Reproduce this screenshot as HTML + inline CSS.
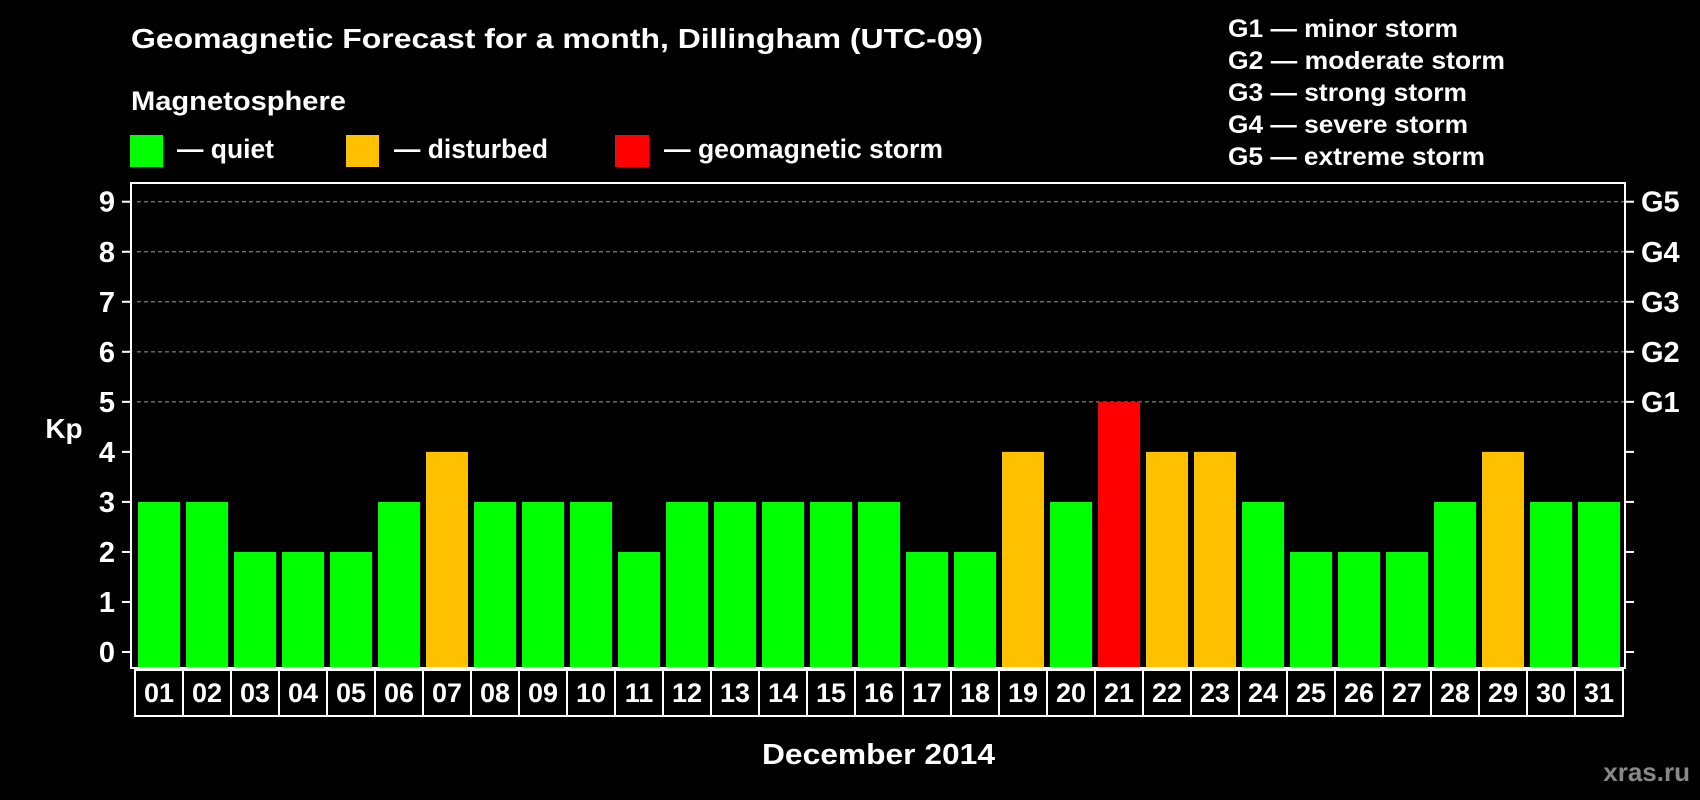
<!DOCTYPE html>
<html><head><meta charset="utf-8"><style>
html,body{margin:0;padding:0;background:#000;}
svg{display:block;font-family:"Liberation Sans",Arial,sans-serif;font-weight:bold;}
</style></head><body>
<svg id="chart" width="1700" height="800" viewBox="0 0 1700 800">
<rect width="1700" height="800" fill="#000"/>
<text x="131" y="48" font-size="28" fill="#fff" textLength="852" lengthAdjust="spacingAndGlyphs">Geomagnetic Forecast for a month, Dillingham (UTC-09)</text>
<text x="131" y="110" font-size="27" fill="#fff" textLength="215" lengthAdjust="spacingAndGlyphs">Magnetosphere</text>
<g>
<rect x="130" y="135" width="33" height="32" fill="#00ff00"/>
<text x="177" y="158" font-size="27" fill="#fff" textLength="97" lengthAdjust="spacingAndGlyphs">— quiet</text></g>
<g>
<rect x="346" y="135" width="33" height="32" fill="#ffc000"/>
<text x="394" y="158" font-size="27" fill="#fff" textLength="154" lengthAdjust="spacingAndGlyphs">— disturbed</text></g>
<g>
<rect x="615" y="135" width="34" height="32" fill="#ff0000"/>
<text x="664" y="158" font-size="27" fill="#fff" textLength="279" lengthAdjust="spacingAndGlyphs">— geomagnetic storm</text></g>
<g font-size="25" fill="#fff" lengthAdjust="spacingAndGlyphs">
<text x="1228" y="37" textLength="230" lengthAdjust="spacingAndGlyphs">G1 — minor storm</text>
<text x="1228" y="69" textLength="277" lengthAdjust="spacingAndGlyphs">G2 — moderate storm</text>
<text x="1228" y="101" textLength="239" lengthAdjust="spacingAndGlyphs">G3 — strong storm</text>
<text x="1228" y="133" textLength="240" lengthAdjust="spacingAndGlyphs">G4 — severe storm</text>
<text x="1228" y="165" textLength="257" lengthAdjust="spacingAndGlyphs">G5 — extreme storm</text>
</g>
<g id="grid"></g>
<g id="bars"></g>
<rect x="131" y="183" width="1494" height="485" fill="none" stroke="#fff" stroke-width="2"/>
<g id="yaxis"></g>
<g id="xaxis"></g>
<text x="64" y="438" font-size="28" fill="#fff" text-anchor="middle">Kp</text>
<text x="762" y="764" font-size="29" fill="#fff" textLength="233" lengthAdjust="spacingAndGlyphs">December 2014</text>
<text x="1690" y="781" font-size="26" fill="#888" text-anchor="end">xras.ru</text>
</svg>
<script>
const days = ["01","02","03","04","05","06","07","08","09","10","11","12","13","14","15","16","17","18","19","20","21","22","23","24","25","26","27","28","29","30","31"];
const kpValues = [3,3,2,2,2,3,4,3,3,3,2,3,3,3,3,3,2,2,4,3,5,4,4,3,2,2,2,3,4,3,3];
const yTicks = [0,1,2,3,4,5,6,7,8,9];
const gLabels = ["G1","G2","G3","G4","G5"];
const gLevels = [5,6,7,8,9];

const NS = "http://www.w3.org/2000/svg";
const y0 = 652, unit = 50.03, x0 = 138, pitch = 48, bw = 42, bottom = 668;
function yScale(v){ return y0 - v*unit; }
function xScale(i){ return x0 + i*pitch; }
function colorFor(v){ return v >= 5 ? "#ff0000" : (v >= 4 ? "#ffc000" : "#00ff00"); }
function mk(tag, attrs, parent){ const e=document.createElementNS(NS,tag); for(const k in attrs) e.setAttribute(k,attrs[k]); parent.appendChild(e); return e; }

const grid=document.getElementById("grid"), bars=document.getElementById("bars"), ya=document.getElementById("yaxis"), xa=document.getElementById("xaxis");
gLevels.forEach(v=>{
  const l=mk("line",{x1:137,x2:1625,y1:yScale(v),y2:yScale(v),stroke:"#999","stroke-width":1,"stroke-dasharray":"4,3"},grid);
  
  
});
kpValues.forEach((v,i)=>{
  const r=mk("rect",{x:xScale(i),y:yScale(v),width:bw,height:bottom-yScale(v),fill:colorFor(v)},bars);
  
  
});
yTicks.forEach(v=>{
  const y=yScale(v);
  mk("line",{x1:122,x2:131,y1:y,y2:y,stroke:"#fff","stroke-width":2},ya);
  mk("line",{x1:1625,x2:1634,y1:y,y2:y,stroke:"#fff","stroke-width":2},ya);
  const t=mk("text",{x:115,y:y+10,"font-size":29,fill:"#fff","text-anchor":"end"},ya);
  t.textContent=v;
  
  
});
gLabels.forEach((g,i)=>{
  const t=mk("text",{x:1641,y:yScale(gLevels[i])+10,"font-size":29,fill:"#fff"},ya);
  t.textContent=g;
  
  
});
days.forEach((d,i)=>{
  const bx=xScale(i)-3;
  const r=mk("rect",{x:bx,y:670,width:pitch,height:46,fill:"none",stroke:"#fff","stroke-width":2},xa);
  
  
  const t=mk("text",{x:bx+pitch/2,y:702,"font-size":27,fill:"#fff","text-anchor":"middle"},xa);
  t.textContent=d;
  
  
});
</script>
</body></html>
